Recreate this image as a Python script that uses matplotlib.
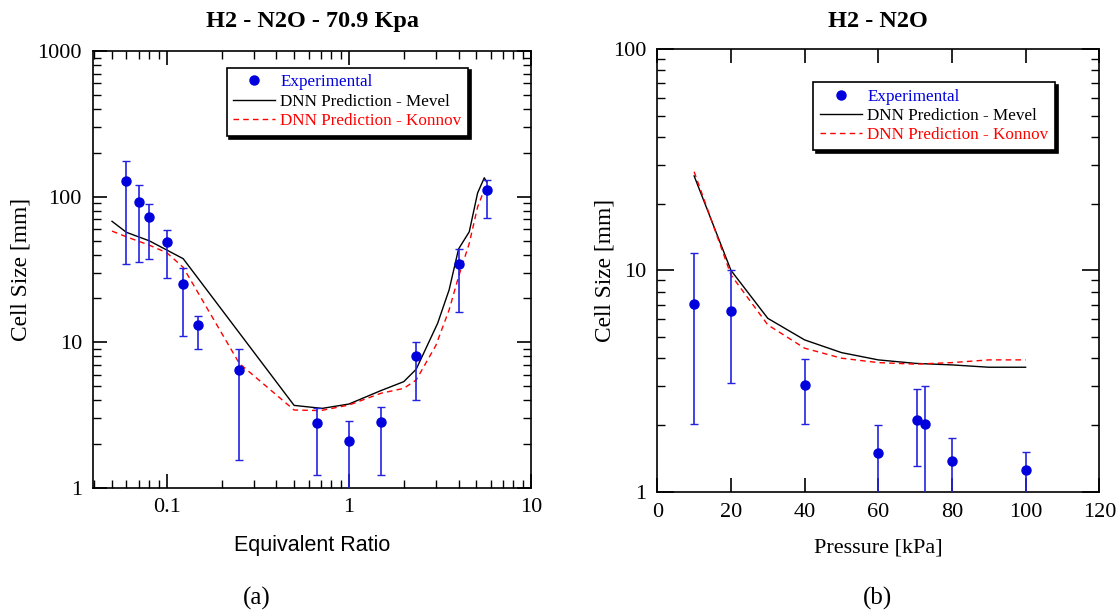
import matplotlib
matplotlib.use("Agg")
import matplotlib.pyplot as plt
import numpy as np
from matplotlib.ticker import NullFormatter, LogLocator

# ---------------- data: panel (a) ----------------
phi_exp = [0.06, 0.07, 0.08, 0.10, 0.123, 0.148, 0.25, 0.667, 1.0, 1.5, 2.34, 4.0, 5.71]
cell_exp_a = [129, 92, 72, 48.6, 25.3, 13.1, 6.5, 2.81, 2.11, 2.82, 8.1, 34.3, 111]
cell_hi_a = [175, 120, 88.5, 59, 32.2, 15.2, 9.0, 3.52, 2.87, 3.6, 10.1, 43.7, 131]
cell_lo_a = [34.3, 35.4, 37.3, 27.6, 11.1, 8.95, 1.56, 1.23, 0.9, 1.23, 4.04, 16.1, 71]

phi_mevel = [0.05, 0.06, 0.08, 0.10, 0.123, 0.50, 0.713, 1.0, 1.49, 2.0, 2.34, 3.07, 3.55, 4.0, 4.58, 5.09, 5.54, 5.71]
cell_mevel_a = [67.7, 56.9, 49.8, 43.0, 37.5, 3.69, 3.52, 3.77, 4.65, 5.37, 6.53, 13.5, 22.9, 43.7, 57.4, 106, 134.8, 126]

phi_konnov = [0.05, 0.06, 0.08, 0.10, 0.123, 0.25, 0.50, 0.70, 1.0, 1.5, 2.0, 2.34, 3.0, 3.55, 4.0, 4.58, 5.09, 5.71]
cell_konnov_a = [58, 53, 46.5, 41.2, 32.7, 7.17, 3.43, 3.40, 3.71, 4.47, 4.83, 5.51, 9.5, 16.7, 28.2, 47.8, 85, 123]

xticks_a = [0.1, 1, 10]
xticklabels_a = ["0.1", "1", "10"]
yticks_a = [1, 10, 100, 1000]
yticklabels_a = ["1", "10", "100", "1000"]

# ---------------- data: panel (b) ----------------
p_exp = [10, 20, 40, 60, 70.6, 72.6, 80, 100]
cell_exp_b = [7.05, 6.58, 3.03, 1.49, 2.10, 2.02, 1.38, 1.25]
cell_hi_b = [12.0, 10.0, 3.99, 2.0, 2.91, 3.0, 1.74, 1.51]
cell_lo_b = [2.02, 3.1, 2.02, 0.9, 1.31, 0.9, 0.9, 0.95]

p_model = [10, 20, 30, 40, 50, 60, 70, 80, 90, 100]
cell_mevel_b = [26.7, 10.0, 6.07, 4.85, 4.25, 3.94, 3.80, 3.74, 3.65, 3.65]
cell_konnov_b = [27.9, 9.53, 5.67, 4.45, 4.01, 3.83, 3.77, 3.83, 3.94, 3.94]

xticks_b = [0, 20, 40, 60, 80, 100, 120]
xticklabels_b = ["0", "20", "40", "60", "80", "100", "120"]
yticks_b = [1, 10, 100]
yticklabels_b = ["1", "10", "100"]

labels = ["Experimental", "DNN Prediction - Mevel", "DNN Prediction - Konnov"]
titles = ["H2 - N2O - 70.9 Kpa", "H2 - N2O"]

# ---------------- style ----------------
SERIF = "Liberation Serif"
SANS = "Liberation Sans"
BLUE = "#0000dd"
EBLUE = "#2222e0"

plt.rcParams["font.family"] = SERIF

fig = plt.figure(figsize=(11.19, 6.10), dpi=100)
axA = fig.add_axes([93 / 1119, 1 - 488 / 610, 438 / 1119, 437 / 610])
axB = fig.add_axes([657.3 / 1119, 1 - 491.7 / 610, 442 / 1119, 442.7 / 610])


def draw(ax, xe, ye, lo, hi, xm, ym, xk, yk):
    ye = np.array(ye)
    yerr = [ye - np.array(lo), np.array(hi) - ye]
    ax.errorbar(xe, ye, yerr=yerr, fmt="none", ecolor=EBLUE, elinewidth=1.2,
                capsize=3, capthick=1.0, zorder=3)
    h1, = ax.plot(xe, ye, "o", color=BLUE, ms=6.5, label=labels[0], zorder=4)
    h2, = ax.plot(xm, ym, "-", color="black", lw=1.0, label=labels[1], zorder=2)
    h3, = ax.plot(xk, yk, "--", color="red", lw=1.0, dashes=(4, 3), label=labels[2], zorder=2)
    return [h1, h2, h3]


def style(ax):
    for s in ax.spines.values():
        s.set_linewidth(1.2)
    ax.tick_params(which="both", direction="in", top=True, right=True, labelsize=16)
    ax.tick_params(which="major", length=10, width=1.2, pad=8)
    ax.tick_params(which="minor", length=6, width=1.0)
    for lab in ax.get_xticklabels() + ax.get_yticklabels():
        lab.set_fontfamily(SERIF)


def legend(ax, anchor):
    leg = ax.legend(loc="upper left", bbox_to_anchor=anchor, borderaxespad=0,
                    frameon=True, fancybox=False, edgecolor="black",
                    shadow={"color": "black", "alpha": 1.0},
                    prop={"family": SERIF, "size": 12.3},
                    handlelength=2.45, handletextpad=0.3, labelspacing=0.2,
                    borderpad=0.4, labelcolor=[BLUE, "black", "red"])
    leg.get_frame().set_linewidth(1.2)
    leg.set_zorder(10)


# ---- panel (a)
draw(axA, phi_exp, cell_exp_a, cell_lo_a, cell_hi_a,
     phi_mevel, cell_mevel_a, phi_konnov, cell_konnov_a)
axA.set_xscale("log")
axA.set_yscale("log")
axA.set_xlim(0.0393, 10)
axA.set_ylim(1, 1000)
axA.set_xticks(xticks_a, xticklabels_a)
axA.set_yticks(yticks_a, yticklabels_a)
axA.xaxis.set_minor_locator(LogLocator(base=10, subs=np.arange(2, 10)))
axA.yaxis.set_minor_locator(LogLocator(base=10, subs=np.arange(2, 10)))
axA.xaxis.set_minor_formatter(NullFormatter())
axA.yaxis.set_minor_formatter(NullFormatter())
style(axA)
axA.tick_params(axis="x", which="major", pad=7)
axA.set_title(titles[0], fontfamily=SERIF, fontweight="bold", fontsize=17.5, pad=17)
axA.set_xlabel("Equivalent Ratio", fontfamily=SANS, fontsize=15.5, labelpad=13)
axA.set_ylabel("Cell Size [mm]", fontfamily=SERIF, fontsize=16.8, labelpad=4)
legend(axA, (0.305, 0.962))

# ---- panel (b)
draw(axB, p_exp, cell_exp_b, cell_lo_b, cell_hi_b,
     p_model, cell_mevel_b, p_model, cell_konnov_b)
axB.set_yscale("log")
axB.set_xlim(0, 120)
axB.set_ylim(1, 100)
axB.set_xticks(xticks_b, xticklabels_b)
axB.set_yticks(yticks_b, yticklabels_b)
axB.yaxis.set_minor_locator(LogLocator(base=10, subs=np.arange(2, 10)))
axB.yaxis.set_minor_formatter(NullFormatter())
style(axB)
axB.tick_params(axis="x", which="major", pad=8)
axB.tick_params(axis="y", which="major", length=12)
axB.set_title(titles[1], fontfamily=SERIF, fontweight="bold", fontsize=17.5, pad=16)
axB.set_xlabel("Pressure [kPa]", fontfamily=SERIF, fontsize=16, labelpad=12)
axB.set_ylabel("Cell Size [mm]", fontfamily=SERIF, fontsize=16.8, labelpad=-2)
legend(axB, (0.353, 0.926))

fig.text(257 / 1119, 1 - 598 / 610, "(a)", fontfamily=SERIF, fontsize=18, ha="center", va="center")
fig.text(878 / 1119, 1 - 598 / 610, "(b)", fontfamily=SERIF, fontsize=18, ha="center", va="center")

fig.savefig("out.png", dpi=100)
